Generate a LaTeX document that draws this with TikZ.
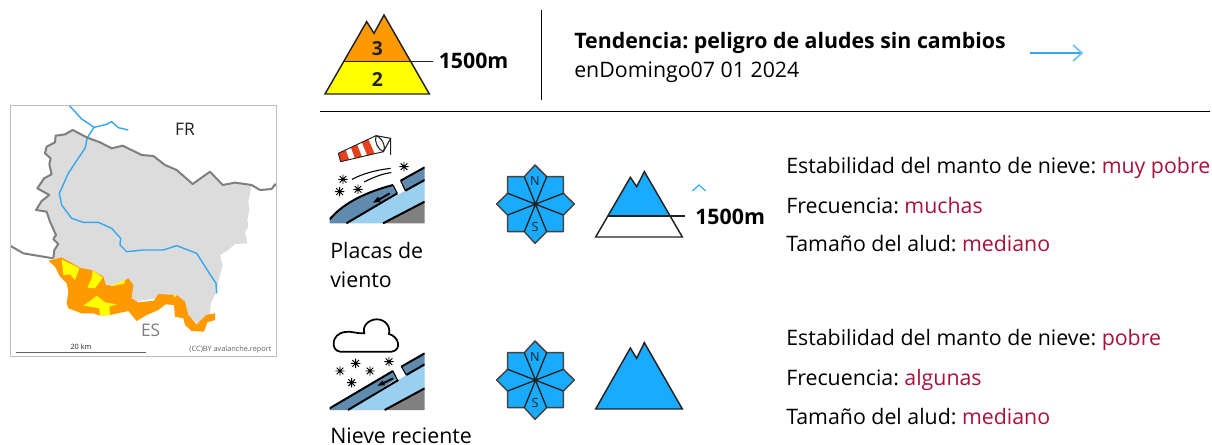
\documentclass[tikz,border=0pt]{standalone}
\usepackage{fontspec}
\setmainfont{Open Sans}
\usetikzlibrary{calc}
\frenchspacing
\definecolor{blueA}{HTML}{19ABFF}
\definecolor{orangeA}{HTML}{FF9900}
\definecolor{yellowA}{HTML}{FFFF00}
\definecolor{grayA}{HTML}{DCDCDC}
\definecolor{borderA}{HTML}{7F7F7F}
\definecolor{riverA}{HTML}{35A7F0}
\definecolor{redA}{HTML}{A8123E}
\definecolor{inkA}{HTML}{222222}
\definecolor{slabA}{HTML}{5F8BAE}
\definecolor{iceA}{HTML}{9BCFF0}
\definecolor{rockA}{HTML}{808080}
\definecolor{sockA}{HTML}{E8401C}
\tikzset{
  body/.style={anchor=base west,inner sep=0pt,font=\fontsize{16pt}{18pt}\selectfont},
  bodyb/.style={body,font=\fontsize{16pt}{18pt}\selectfont\bfseries},
  mtn/.style={draw=inkA,line width=1.1pt,line join=miter},
  asp/.style={draw=inkA!85!white,line width=1.1pt,fill=blueA,line join=round},
  asplabel/.style={inner sep=0pt,text=inkA,font=\fontsize{9.5pt}{10pt}\selectfont},
  border/.style={draw=borderA,line width=1.5pt,line join=round},
  river/.style={draw=riverA,line width=1.05pt,line join=round},
  heavy/.style={draw=black,line width=1.5pt},
  thin/.style={draw=black,line width=.8pt},
  dangerlabel/.style={inner sep=0pt,text=inkA,font=\fontsize{14.5pt}{15pt}\selectfont\bfseries}
}
\newcommand{\snowstar}[1]{%
  \begin{scope}[shift={#1}]
    \draw[black,line width=.7pt] (-14,0)--(14,0) (0,-14)--(0,14) (-10,-10)--(10,10) (-10,10)--(10,-10);
  \end{scope}}
\newcommand{\aspect}{%
  \path[asp] (150,15)--(185,50)--(235,50)--(235,100)--(268,132)--(235,165)--(235,215)--(185,215)--(150,250)--(118,215)--(68,215)--(68,165)--(35,132)--(68,100)--(68,50)--(118,50)--cycle;
  \draw[draw=inkA,line width=1pt] (118,50)--(185,215) (185,50)--(118,215) (235,100)--(68,165) (235,165)--(68,100);
  \fill[inkA] (150,132) circle (6);
}
\begin{document}
\begin{tikzpicture}[x=.75pt,y=-.75pt]
\useasboundingbox (0,0) rectangle (1212,445);
\fill[white] (0,0) rectangle (1212,445);

% ---------- map
\begin{scope}[shift={(0,95)},x=.25pt,y=-.25pt]
  \path[fill=grayA] (262,128)--(300,142)--(335,160)--(368,152)--(425,180)--(460,183)--(495,210)--(530,225)--(578,267)--(630,230)--(668,270)--(705,263)--(755,270)--(745,320)--(748,345)--(742,375)--(745,395)--(735,410)--(742,445)--(705,447)--(685,465)--(660,480)--(668,510)--(655,560)--(650,590)--(632,625)--(630,660)--(600,690)--(560,660)--(530,610)--(470,610)--(400,620)--(300,600)--(160,490)--(163,465)--(175,447)--(160,432)--(168,420)--(150,380)--(140,350)--(108,345)--(125,318)--(148,300)--(112,280)--(132,250)--(155,238)--(148,208)--(152,190)--(135,175)--(140,155)--(165,142)--(167,122)--(195,118)--(218,105)--cycle;
  \path[fill=orangeA] (145,497)--(185,487)--(240,518)--(275,525)--(310,545)--(318,570)--(345,573)--(385,550)--(400,570)--(395,610)--(415,622)--(462,617)--(475,597)--(530,600)--(555,620)--(565,660)--(590,688)--(618,660)--(645,655)--(645,675)--(622,682)--(612,710)--(575,708)--(555,690)--(550,670)--(525,665)--(522,630)--(497,628)--(475,645)--(440,660)--(410,678)--(385,648)--(330,660)--(300,662)--(280,655)--(245,655)--(205,640)--(200,625)--(205,590)--(200,565)--(180,545)--(165,515)--cycle;
  \path[fill=yellowA] (185,493)--(238,520)--(225,555)--(210,538)--(190,540)--cycle;
  \path[fill=yellowA] (278,527)--(308,548)--(285,580)--(262,578)--(275,550)--cycle;
  \path[fill=yellowA] (330,572)--(375,555)--(372,567)--cycle;
  \path[fill=yellowA] (290,602)--(315,622)--(350,628)--(328,635)--(330,660)--(300,662)--(298,640)--(250,632)--(270,618)--cycle;
  \path[fill=yellowA] (520,600)--(530,600)--(525,607)--cycle;
  \draw[river] (208,32)--(225,50)--(245,72)--(265,85)--(282,97)--(262,128)--(255,160)--(228,200)--(205,235)--(178,295)--(185,330)--(215,370)--(250,382)--(295,382)--(335,400)--(362,430)--(360,450)--(380,470)--(430,465)--(490,465)--(530,452)--(590,475)--(625,530)--(648,565)--(650,595);
  \draw[river] (282,97)--(320,88)--(335,80)--(355,98)--(385,105);
  \draw[border] (830,272)--(825,268)--(815,282)--(780,285)--(755,270)--(705,263)--(668,270)--(630,230)--(578,267)--(530,225)--(495,210)--(460,183)--(425,180)--(368,152)--(335,160)--(300,142)--(262,128)--(218,105)--(195,118)--(167,122)--(165,142)--(140,155)--(135,175)--(152,190)--(148,208)--(155,238)--(132,250)--(112,280)--(148,300)--(125,318)--(108,345)--(140,350)--(150,380)--(168,420)--(160,432)--(175,447)--(163,465)--(160,490);
  \draw[border] (32,453)--(70,475)--(160,490);
  \draw[draw=black!25,line width=.6pt] (32,32) rectangle (830,785);
  \node[inner sep=0pt,text=inkA,font=\fontsize{13pt}{14pt}\selectfont] (fr) at (555,102) {FR};
  \node[inner sep=0pt,text=borderA,font=\fontsize{13pt}{14pt}\selectfont] (es) at (452,705) {ES};
  \node[inner sep=0pt,text=inkA,font=\fontsize{5.5pt}{6pt}\selectfont] (km) at (243,756) {20 km};
  \draw[draw=inkA!70,line width=.8pt] (47,772)--(438,772);
  \node[anchor=east,inner sep=0pt,text=inkA!70,font=\fontsize{5.5pt}{6pt}\selectfont] (cc) at (815,765) {(CC)BY avalanche.report};
\end{scope}

% ---------- danger icon
\begin{scope}[shift={(320,0)},x=.25pt,y=-.25pt]
  \path[fill=yellowA] (15,282)--(328,282)--(272,185)--(72,185)--cycle;
  \path[fill=orangeA] (72,185)--(272,185)--(192,45)--(162,100)--(140,65)--cycle;
  \draw[mtn] (15,282)--(328,282)--(192,45)--(162,100)--(140,65)--cycle;
  \draw[mtn] (72,185)--(340,185);
  \node[dangerlabel] (d3) at (172,145) {3};
  \node[dangerlabel] (d2) at (172,240) {2};
\end{scope}
\node[bodyb] (h1500) at (438.5,69) {1500m};
\draw[draw=black,line width=.75pt] (541,10)--(541,100);
\draw[draw=black,line width=.75pt] (320,111.5)--(1210,111.5);
\node[bodyb] (tend) at (574,49) {Tendencia: peligro de aludes sin cambios};
\node[body] (date) at (574,78) {enDomingo07 01 2024};
\draw[draw=riverA,line width=1.1pt] (1030,53)--(1082,53);
\draw[draw=riverA!70,line width=1.3pt] (1073,45)--(1082,53)--(1073,61);

% ---------- wind slab icon
\begin{scope}[shift={(320,120)},x=.25pt,y=-.25pt]
  \begin{scope}
    \clip (29,100) rectangle (314,310);
    \path[fill=rockA] (189,310)--(314,245)--(314,310)--cycle;
    \path[fill=iceA] (79,310)--(314,180)--(314,245)--(189,310)--cycle;
    \path[fill=slabA] (29,298)..controls (74,245) and (144,215) .. (219,195)--(232,220)--(79,310)--(29,310)--cycle;
    \path[fill=slabA] (242,182)--(314,142)--(314,180)--(256,212)--cycle;
    \draw[heavy] (29,298)..controls (74,245) and (144,215) .. (219,195);
    \draw[heavy] (242,182)--(314,142);
    \draw[heavy] (79,310)--(232,220);
    \draw[heavy] (256,212)--(314,180);
    \draw[heavy] (189,310)--(314,245);
    \draw[thin] (219,195)--(232,220) (242,182)--(256,212);
    \draw[black,line width=1.4pt] (209,220)--(175,240);
    \fill[black] (159,248)--(174,230)--(182,245)--cycle;
  \end{scope}
  \path[fill=sockA] (55,100)--(168,47)--(190,95)--(62,125)--cycle;
  \foreach \a/\b in {.2/.33,.5/.62,.8/1}{
    \path[fill=white] ($(55,100)!\a!(168,47)$)--($(55,100)!\b!(168,47)$)--($(62,125)!\b!(190,95)$)--($(62,125)!\a!(190,95)$)--cycle;
  }
  \draw[inkA,line width=.7pt] (55,100)--(168,47) (62,125)--(190,95) (55,100)--(62,125);
  \draw[inkA,line width=.8pt,fill=white] (168,47)..controls (190,55) and (198,85) .. (190,95)..controls (175,90) and (162,65) .. (168,47);
  \draw[inkA,line width=.8pt] (168,47)--(212,55)--(190,95) (212,55)--(212,105);
  \snowstar{(69,178)}\snowstar{(59,215)}\snowstar{(114,208)}\snowstar{(252,140)}
  \draw[thin] (96,178)..controls (130,160) and (170,150) .. (212,145);
  \draw[thin] (132,186)..controls (160,172) and (190,160) .. (214,158);
\end{scope}
\node[body] (p1) at (330,258) {Placas de};
\node[body] (p2) at (330,287) {viento};

% ---------- first aspect and mountain
\begin{scope}[shift={(485,160)},x=.25pt,y=-.25pt]
  \aspect
  \node[asplabel] (n1lab) at (150,63) {N};
  \node[asplabel] (s1lab) at (150,202) {S};
  \path[fill=blueA] (370,168)--(553,168)--(478,35)--(455,80)--(436,52)--cycle;
  \draw[mtn] (332,231)--(592,231)--(478,35)--(455,80)--(436,52)--cycle;
  \draw[mtn] (370,168)--(600,168);
  \draw[draw=blueA,line width=.8pt] (622,93)--(642,75)--(662,93);
\end{scope}
\node[bodyb] (a1500) at (695,224) {1500m};

\node[body] (t1a) at (786,174) {Estabilidad del manto de nieve: \textcolor{redA}{muy pobre}};
\node[body] (t1b) at (786,213.5) {Frecuencia: \textcolor{redA}{muchas}};
\node[body] (t1c) at (786,252) {Tamaño del alud: \textcolor{redA}{mediano}};

% ---------- new snow icon
\begin{scope}[shift={(320,310)},x=.25pt,y=-.25pt]
  \begin{scope}
    \clip (29,100) rectangle (314,300);
    \path[fill=rockA] (194,300)--(314,235)--(314,300)--cycle;
    \path[fill=iceA] (84,300)--(314,163)--(314,235)--(194,300)--cycle;
    \path[fill=slabA] (29,295)--(219,183)--(229,207)--(84,300)--(29,300)--cycle;
    \path[fill=slabA] (244,170)--(314,130)--(314,163)--(259,195)--cycle;
    \draw[heavy] (29,295)--(219,183);
    \draw[heavy] (244,170)--(314,130);
    \draw[heavy] (84,300)--(235,210);
    \draw[heavy] (259,195)--(314,163);
    \draw[heavy] (194,300)--(314,235);
    \draw[thin] (219,183)--(232,210) (244,170)--(259,195);
    \draw[black,line width=1.4pt] (219,205)--(187,221);
    \fill[black] (172,227)--(188,211)--(195,226)--cycle;
  \end{scope}
  \draw[black,line width=1.3pt,fill=white] (60,125)..controls (32,122) and (32,72) .. (75,66)..controls (90,62) and (115,72) .. (133,70)..controls (125,45) and (150,28) .. (170,28)..controls (195,28) and (212,48) .. (207,72)..controls (235,78) and (248,120) .. (215,125)--cycle;
  \snowstar{(60,183)}\snowstar{(107,160)}\snowstar{(150,183)}\snowstar{(207,155)}\snowstar{(95,218)}
\end{scope}
\node[body] (n1) at (330,443) {Nieve reciente};

% ---------- second aspect and mountain
\begin{scope}[shift={(485,336)},x=.25pt,y=-.25pt]
  \aspect
  \node[asplabel] (n2lab) at (150,63) {N};
  \node[asplabel] (s2lab) at (150,202) {S};
\end{scope}
\begin{scope}[shift={(485,330)},x=.25pt,y=-.25pt]
  \path[mtn,fill=blueA] (332,237)--(592,237)--(478,38)--(455,85)--(436,54)--cycle;
\end{scope}

\node[body] (t2a) at (786,345) {Estabilidad del manto de nieve: \textcolor{redA}{pobre}};
\node[body] (t2b) at (786,385) {Frecuencia: \textcolor{redA}{algunas}};
\node[body] (t2c) at (786,424) {Tamaño del alud: \textcolor{redA}{mediano}};
\end{tikzpicture}
\end{document}
